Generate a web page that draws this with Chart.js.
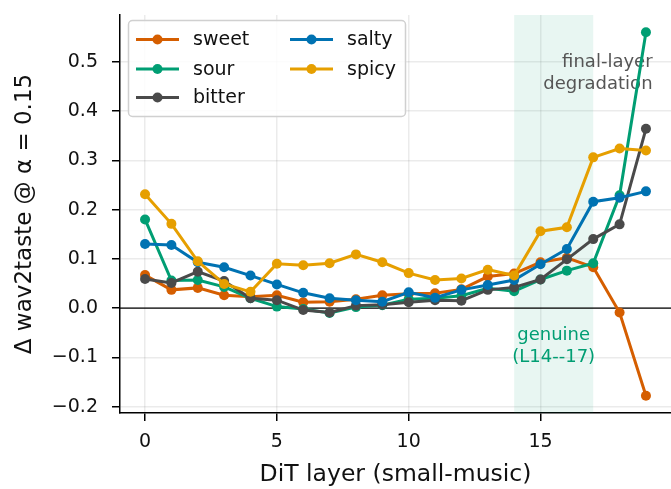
<!DOCTYPE html>
<html>
<head>
<meta charset="utf-8">
<script src="https://cdn.jsdelivr.net/npm/chart.js@4/dist/chart.umd.min.js"></script>
<style>
  html, body { margin: 0; padding: 0; background: #fff; }
  #wrap { width: 671px; height: 489px; }
</style>
</head>
<body>
<div id="wrap"><canvas id="c" width="671" height="489"></canvas></div>
<script>
// layers 0..19
const layers = [0,1,2,3,4,5,6,7,8,9,10,11,12,13,14,15,16,17,18,19];
const xTicks = [0, 5, 10, 15];
const yTicks = [-0.2, -0.1, 0.0, 0.1, 0.2, 0.3, 0.4, 0.5];

const sweet  = [0.067, 0.037, 0.041, 0.026, 0.023, 0.026, 0.012, 0.013, 0.018, 0.026, 0.029, 0.030, 0.038, 0.064, 0.070, 0.093, 0.102, 0.083, -0.009, -0.178];
const sour   = [0.180, 0.056, 0.057, 0.043, 0.020, 0.003, -0.002, -0.010, 0.002, 0.006, 0.018, 0.020, 0.025, 0.040, 0.034, 0.058, 0.076, 0.091, 0.229, 0.560];
const bitter = [0.059, 0.051, 0.074, 0.055, 0.020, 0.016, -0.004, -0.009, 0.005, 0.007, 0.012, 0.016, 0.015, 0.037, 0.042, 0.058, 0.099, 0.140, 0.170, 0.364];
const salty  = [0.130, 0.128, 0.093, 0.083, 0.066, 0.048, 0.031, 0.020, 0.016, 0.013, 0.032, 0.021, 0.037, 0.047, 0.057, 0.089, 0.120, 0.216, 0.224, 0.237];
const spicy  = [0.231, 0.171, 0.095, 0.049, 0.033, 0.090, 0.087, 0.091, 0.109, 0.093, 0.071, 0.057, 0.060, 0.078, 0.066, 0.156, 0.164, 0.306, 0.324, 0.320];

const seriesNames  = ['sweet', 'sour', 'bitter', 'salty', 'spicy'];
const seriesData   = [sweet, sour, bitter, salty, spicy];
const seriesColors = ['#d55e00', '#009e73', '#4a4a4a', '#0072b2', '#e69f00'];

const genuineSpan = [14, 17];

const FONT = "'DejaVu Sans', sans-serif";

const datasets = seriesNames.map((name, i) => ({
    label: name,
    data: layers.map((l, j) => ({ x: l, y: seriesData[i][j] })),
    borderColor: seriesColors[i],
    backgroundColor: seriesColors[i],
    pointBackgroundColor: seriesColors[i],
    pointBorderWidth: 0,
    pointRadius: 5,
    borderWidth: 3,
    tension: 0,
    clip: false,
    order: seriesNames.length - i // later series on top
}));

// shaded span, zero line, annotations
const extras = {
    id: 'extras',
    beforeDatasetsDraw(chart) {
        const { ctx, chartArea, scales: { x, y } } = chart;
        ctx.save();
        ctx.fillStyle = 'rgba(0,158,115,0.09)';
        const x0 = x.getPixelForValue(genuineSpan[0]);
        const x1 = x.getPixelForValue(genuineSpan[1]);
        ctx.fillRect(x0, chartArea.top, x1 - x0, chartArea.bottom - chartArea.top);
        const y0 = y.getPixelForValue(0);
        ctx.strokeStyle = '#000';
        ctx.lineWidth = 1.3;
        ctx.beginPath();
        ctx.moveTo(chartArea.left, y0);
        ctx.lineTo(chartArea.right, y0);
        ctx.stroke();

        ctx.font = '18px ' + FONT;
        ctx.textBaseline = 'middle';
        ctx.fillStyle = '#009e73';
        ctx.textAlign = 'center';
        const gx = x.getPixelForValue((genuineSpan[0] + genuineSpan[1]) / 2);
        ctx.fillText('genuine', gx, y.getPixelForValue(-0.056));
        ctx.fillText('(L14--17)', gx, y.getPixelForValue(-0.100));
        ctx.fillStyle = '#555555';
        ctx.textAlign = 'right';
        ctx.fillText('final-layer', x.getPixelForValue(19.25), y.getPixelForValue(0.498));
        ctx.fillText('degradation', x.getPixelForValue(19.25), y.getPixelForValue(0.454));
        ctx.restore();
    },
    afterDatasetsDraw(chart) {
        const { ctx } = chart;
        ctx.save();
        // legend box
        const bx = 128.5, by = 20.5, bw = 277, bh = 96, r = 4;
        ctx.beginPath();
        ctx.roundRect(bx, by, bw, bh, r);
        ctx.fillStyle = 'rgba(255,255,255,0.85)';
        ctx.fill();
        ctx.strokeStyle = '#d0d0d0';
        ctx.lineWidth = 1.5;
        ctx.stroke();

        const cols = [136, 290];
        const rows = [39.5, 69, 97.5];
        ctx.font = '19px ' + FONT;
        ctx.textBaseline = 'middle';
        ctx.textAlign = 'left';
        seriesNames.forEach((name, i) => {
            const cx = cols[Math.floor(i / 3)];
            const cy = rows[i % 3];
            ctx.strokeStyle = seriesColors[i];
            ctx.lineWidth = 3;
            ctx.beginPath();
            ctx.moveTo(cx, cy);
            ctx.lineTo(cx + 43, cy);
            ctx.stroke();
            ctx.fillStyle = seriesColors[i];
            ctx.beginPath();
            ctx.arc(cx + 21.5, cy, 5, 0, Math.PI * 2);
            ctx.fill();
            ctx.fillStyle = '#111';
            ctx.fillText(name, cx + 57, cy + 1);
        });
        ctx.restore();
    }
};

new Chart(document.getElementById('c'), {
    type: 'line',
    data: { datasets },
    options: {
        responsive: false,
        animation: false,
        devicePixelRatio: 1,
        layout: { autoPadding: false, padding: { top: 15, right: 0, left: 0, bottom: 0 } },
        plugins: { legend: { display: false }, tooltip: { enabled: false } },
        scales: {
            x: {
                type: 'linear',
                min: -0.95,
                max: 19.95,
                afterBuildTicks: s => { s.ticks = xTicks.map(v => ({ value: v })); },
                afterFit: s => { s.height = 76; s.paddingLeft = 0; s.paddingRight = 0; },
                grid: { color: 'rgba(0,0,0,0.08)', lineWidth: 1.5, tickColor: '#000', tickLength: 8, tickWidth: 1.5 },
                border: { display: true, color: '#000', width: 1.5 },
                ticks: { font: { family: FONT, size: 19 }, color: '#111', padding: 10, maxRotation: 0,
                          callback: v => String(v) },
                title: { display: true, text: 'DiT layer (small-music)', font: { family: FONT, size: 23.5 },
                         color: '#111', padding: { top: 0, bottom: 0 } }
            },
            y: {
                type: 'linear',
                min: -0.213,
                max: 0.595,
                afterBuildTicks: s => { s.ticks = yTicks.map(v => ({ value: v })); },
                afterFit: s => { s.width = 120; s.paddingTop = 0; s.paddingBottom = 0; },
                grid: { color: 'rgba(0,0,0,0.08)', lineWidth: 1.5, tickColor: '#000', tickLength: 8, tickWidth: 1.5 },
                border: { display: true, color: '#000', width: 1.5 },
                ticks: { font: { family: FONT, size: 19 }, color: '#111', padding: 14,
                         callback: v => (v < 0 ? '\u2212' + Math.abs(v).toFixed(1) : v.toFixed(1)) },
                title: { display: true, text: 'Δ wav2taste @ α = 0.15', font: { family: FONT, size: 23 },
                         color: '#111', padding: { top: 11, bottom: 0 } }
            }
        }
    },
    plugins: [extras]
});
</script>
</body>
</html>
